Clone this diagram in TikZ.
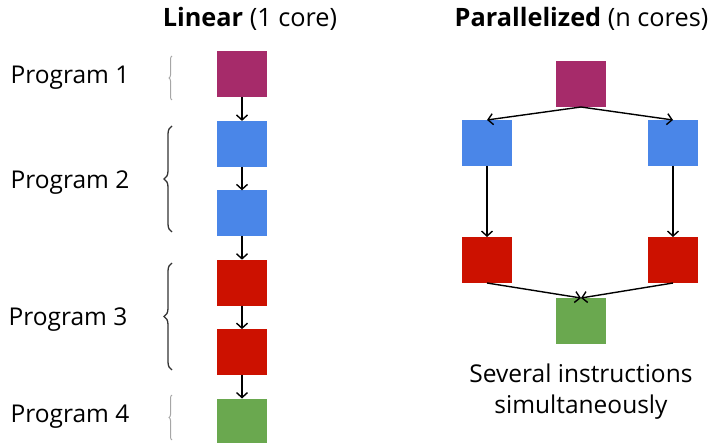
\documentclass[tikz,border=0pt]{standalone}
\usepackage{fontspec}
\setmainfont{Open Sans}
\usetikzlibrary{positioning,decorations.pathreplacing,arrows.meta}

\definecolor{taskpurple}{RGB}{166,43,106}
\definecolor{taskblue}{RGB}{74,134,232}
\definecolor{taskred}{RGB}{204,17,0}
\definecolor{taskgreen}{RGB}{106,168,79}

\begin{document}
\begin{tikzpicture}[x=1pt,y=-1pt,->,>={Straight Barb[length=5pt,width=11pt]},line width=1.4pt,node distance=23.4pt,
        task/.style={draw=none,minimum width=50pt,minimum height=46pt,inner sep=0pt,outer sep=0pt},
        prog/.style={font=\fontsize{24.5}{31}\selectfont},
        heading/.style={font=\fontsize{25.3}{31}\selectfont},
        bigbrace/.style={-,decorate,decoration={brace,amplitude=8pt},line width=1.3pt,black!80},
        smallbrace/.style={-,decorate,decoration={brace,amplitude=3pt},line width=1pt,black!35}]
    \useasboundingbox (0,0) rectangle (712,443);

    % titles
    \node[heading] (lin) at (250,19) {\textbf{Linear} (1 core)};
    \node[heading] (par) at (581.5,19) {\textbf{Parallelized} (n cores)};

    % linear column
    \node[task, fill=taskpurple] (l1) at (242,74.5) {};
    \node[task, fill=taskblue] (l2) [below=of l1] {};
    \node[task, fill=taskblue] (l3) [below=of l2] {};
    \node[task, fill=taskred] (l4) [below=of l3] {};
    \node[task, fill=taskred] (l5) [below=of l4] {};
    \node[task, fill=taskgreen] (l6) [below=of l5] {};

    \path (l1) edge (l2)
    (l2) edge (l3)
    (l3) edge (l4)
    (l4) edge (l5)
    (l5) edge (l6);

    % program labels and braces
    \node[prog] (p1lbl) at (70,78) {Program 1};
    \node[prog] (p2lbl) at (70,183) {Program 2};
    \node[prog] (p3lbl) at (68,320) {Program 3};
    \node[prog] (p4lbl) at (70,417) {Program 4};

    \coordinate (b1a) at (172,100);
    \coordinate (b1b) at (172,56);
    \coordinate (b2a) at (172,232);
    \coordinate (b2b) at (172,126);
    \coordinate (b3a) at (172,370);
    \coordinate (b3b) at (172,263);
    \coordinate (b4a) at (172,440);
    \coordinate (b4b) at (172,395);
    \draw[smallbrace] (b1a) -- (b1b);
    \draw[bigbrace] (b2a) -- (b2b);
    \draw[bigbrace] (b3a) -- (b3b);
    \draw[smallbrace] (b4a) -- (b4b);

    % parallel part
    \node[task, fill=taskpurple] (q1) at (581,84) {};
    \node[task, fill=taskblue] (q2) at (487,143) {};
    \node[task, fill=taskblue] (q3) at (673,143) {};
    \node[task, fill=taskred] (q4) at (487,260) {};
    \node[task, fill=taskred] (q5) at (673,260) {};
    \node[task, fill=taskgreen] (q6) at (581,321) {};

    \path (q1.south) edge (q2.north)
    (q1.south) edge (q3.north)
    (q2) edge (q4)
    (q3) edge (q5)
    (q4.south) edge (q6.north)
    (q5.south) edge (q6.north);

    \node[prog, align=center] (sim) at (581,392) {Several instructions\\simultaneously};
\end{tikzpicture}
\end{document}
